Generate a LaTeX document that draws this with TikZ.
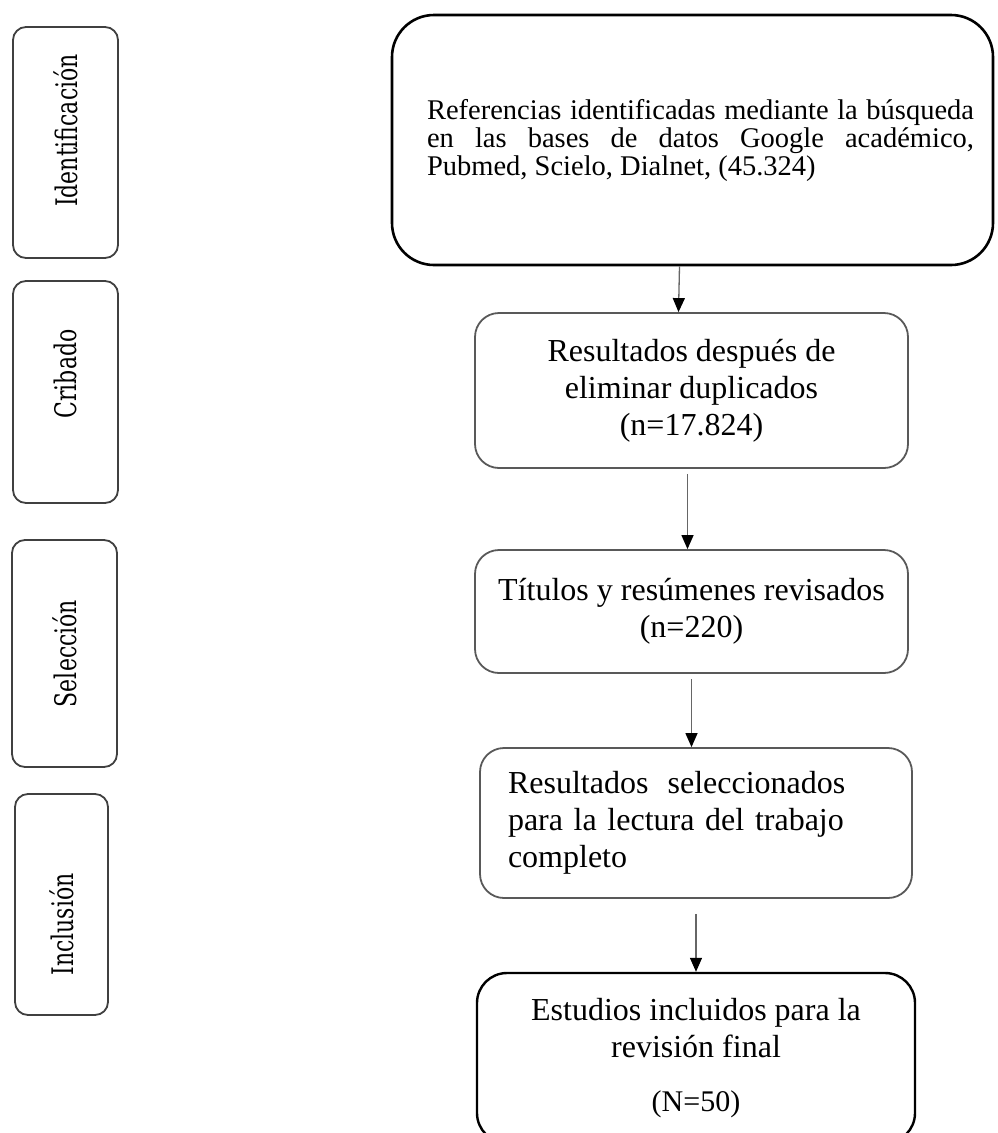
\documentclass[tikz,border=0pt]{standalone}
\usepackage{fontspec}
\setmainfont{Liberation Serif}
\newfontfamily\etiq{DejaVu Serif}
\usetikzlibrary{arrows.meta}
\tikzset{
  >={Triangle[length=14pt,width=12pt,color=black]},
  fase/.style={draw=black!75,line width=1.8pt,rounded corners=13pt,minimum width=105pt,inner sep=0pt,font=\etiq\fontsize{22}{22}\selectfont},
  caja/.style={draw=black!65,line width=1.8pt,rounded corners=24pt,inner sep=0pt,align=center,font=\fontsize{32}{37}\selectfont},
  flecha/.style={->,draw=black!60,line width=1.3pt},
}
\newcommand\vlab[1]{\rotatebox{90}{\scalebox{1}[1.35]{#1}}}
\begin{document}
\begin{tikzpicture}[x=1pt,y=-1pt]
\useasboundingbox (0,0) rectangle (997,1133);
\node[fase,minimum height=231pt] (ident) at (65.5,142.5){\vlab{\hspace*{24pt}Identificación}};
\node[fase,minimum height=222pt] (crib) at (65.5,392){\vlab{\hspace*{36pt}Cribado}};
\node[fase,minimum height=227pt] (selec) at (64.5,653.5){\vlab{Selección}};
\node[fase,minimum width=93pt,minimum height=221pt] (incl) at (61.5,904.5){\vlab{Inclusión\hspace*{40pt}}};
\node[caja,draw=black,line width=2.6pt,rounded corners=42pt,minimum width=601pt,minimum height=250pt] (refs) at (692.5,140)
  {\hspace*{16pt}\parbox{547pt}{\fontsize{28.5}{28}\selectfont Referencias identificadas mediante la búsqueda\linebreak
   en las bases de datos Google académico,\linebreak Pubmed, Scielo, Dialnet, (45.324)}};
\node[caja,minimum width=433pt,minimum height=155pt] (res) at (691.5,390.5){Resultados después de\\eliminar duplicados\\(n=17.824)};
\node[caja,minimum width=433pt,minimum height=123pt] (tit) at (691.5,611.5){Títulos y resúmenes revisados\\(n=220)};
\node[caja,align=left,text width=376pt,inner xsep=28pt,minimum height=150pt] (sel) at (696,823)
  {Resultados\hspace{0.6em}seleccionados\\para la lectura del trabajo\\completo};
\node[caja,draw=black,line width=2.4pt,rounded corners=30pt,minimum width=438pt,minimum height=170pt] (fin) at (696,1058)
  {Estudios incluidos para la\\revisión final\\[17pt]{\fontsize{30}{30}\selectfont(N=50)}};
\draw[flecha] ([xshift=-13pt]refs.south) -- ([xshift=-13pt]res.north);
\draw[flecha,shorten <=5pt] ([xshift=-4pt]res.south) -- ([xshift=-4pt]tit.north);
\draw[flecha,shorten <=5pt] (tit.south) -- (tit.south |- sel.north);
\draw[flecha,shorten <=15pt] (sel.south) -- (sel.south |- fin.north);
\end{tikzpicture}
\end{document}
